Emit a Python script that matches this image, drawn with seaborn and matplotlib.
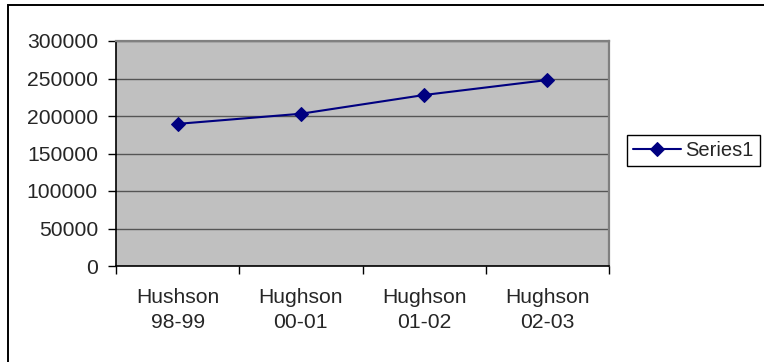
import matplotlib
matplotlib.use("Agg")
import matplotlib.pyplot as plt
from matplotlib.patches import Rectangle
from matplotlib.ticker import FixedLocator
import seaborn as sns
import pandas as pd

categories = ["Hushson\n98-99", "Hughson\n00-01", "Hughson\n01-02", "Hughson\n02-03"]
series1 = [189500, 203000, 228000, 248000]
series_name = "Series1"
y_ticks = [0, 50000, 100000, 150000, 200000, 250000, 300000]

sns.set_theme(style="ticks")
plt.rcParams["font.family"] = ["Liberation Sans", "DejaVu Sans"]

W, H = 764, 362
fig = plt.figure(figsize=(W / 100, H / 100), dpi=100)
fig.patch.set_facecolor("white")

# outer chart border (only top and left edges fall inside the canvas)
fig.add_artist(Rectangle((8 / W, -0.1), 2.0, 1 - 5 / H + 0.1, transform=fig.transFigure,
                         fill=False, edgecolor="black", linewidth=1.4))

left, right, top, bottom = 116, 609, 41, 266
ax = fig.add_axes([left / W, 1 - bottom / H, (right - left) / W, (bottom - top) / H])
ax.set_facecolor("#C0C0C0")

df = pd.DataFrame({"x": range(len(categories)), "value": series1, "series": series_name})
sns.lineplot(data=df, x="x", y="value", hue="series", palette=["#000080"],
             marker="D", markersize=7.5, markeredgecolor="#000080", linewidth=1.5,
             ax=ax, legend=True)

ax.set_xlim(-0.5, len(categories) - 0.5)
ax.set_ylim(0, 300000)
ax.set_yticks(y_ticks)
ax.set_yticklabels([str(v) for v in y_ticks])
ax.yaxis.grid(True, color="#555555", linewidth=1.0)
ax.set_axisbelow(True)

ax.set_xticks(range(len(categories)))
ax.set_xticklabels(categories, linespacing=1.4)
ax.xaxis.set_minor_locator(FixedLocator([i - 0.5 for i in range(len(categories) + 1)]))
ax.tick_params(axis="x", which="major", length=0, pad=16, labelsize=15.2)
ax.tick_params(axis="x", which="minor", length=6, width=1, color="black", direction="out")
ax.tick_params(axis="y", which="major", length=6, width=1, color="black", direction="out",
               pad=7, labelsize=15.2)
ax.set_xlabel("")
ax.set_ylabel("")

for side in ("left", "bottom"):
    ax.spines[side].set_color("black")
    ax.spines[side].set_linewidth(1.2)
for side in ("top", "right"):
    ax.spines[side].set_visible(True)
    ax.spines[side].set_color("#808080")
    ax.spines[side].set_linewidth(1.6)

handles, labels = ax.get_legend_handles_labels()
leg = ax.legend(handles, labels, loc="upper left",
                bbox_to_anchor=(627 / W, 1 - 135 / H), bbox_transform=fig.transFigure,
                frameon=True, fancybox=False, framealpha=1, edgecolor="black",
                fontsize=14.5, handlelength=2.4, handletextpad=0.2,
                borderpad=0.3, borderaxespad=0)
leg.get_frame().set_linewidth(1.0)

fig.savefig("out.png", dpi=100)
